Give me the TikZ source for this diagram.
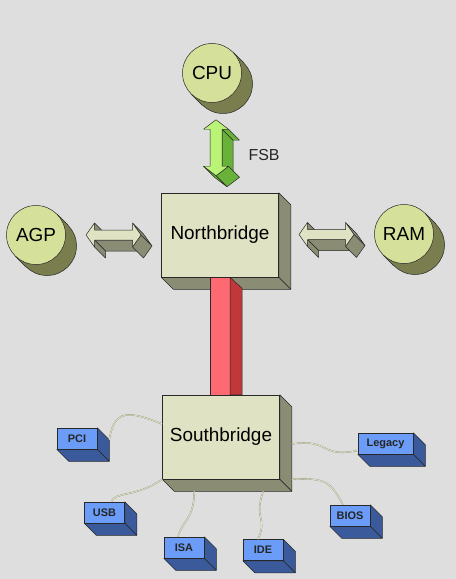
\documentclass[tikz,border=0pt]{standalone}
\usepackage{fontspec}
\setmainfont{Liberation Sans}
\usetikzlibrary{calc}
\definecolor{bgcol}{RGB}{222,222,222}
\definecolor{edgecol}{RGB}{40,40,40}
\definecolor{discface}{RGB}{213,224,154}
\definecolor{discside}{RGB}{122,125,78}
\definecolor{chipface}{RGB}{224,226,196}
\definecolor{chipside}{RGB}{138,140,116}
\definecolor{fsbface}{RGB}{186,244,118}
\definecolor{fsbside}{RGB}{104,178,58}
\definecolor{barface}{RGB}{255,106,114}
\definecolor{barside}{RGB}{192,56,58}
\definecolor{portface}{RGB}{106,156,248}
\definecolor{portside}{RGB}{58,90,155}
\definecolor{wireedge}{RGB}{150,150,130}
\definecolor{wirecore}{RGB}{232,232,204}
\pgfdeclarelayer{back}
\pgfsetlayers{back,main}
\tikzset{
  side/.style={draw=edgecol,line width=0.5pt,line join=round},
  disc/.style={circle,draw=edgecol,line width=0.5pt,fill=discface,minimum size=59bp,inner sep=0pt,font=\fontsize{19}{22}\selectfont},
  chip/.style={rectangle,draw=edgecol,line width=0.5pt,fill=chipface,minimum width=117bp,minimum height=84bp,inner sep=0pt,font=\fontsize{19}{22}\selectfont},
  port/.style={rectangle,draw=edgecol,line width=0.5pt,fill=portface,minimum width=40bp,minimum height=21bp,inner sep=0pt,font=\bfseries\fontsize{11}{13}\selectfont,text=black!85},
  buslab/.style={font=\fontsize{16}{19}\selectfont,text=black!85},
  wire/.style={draw=wireedge,line width=0.35pt,double=wirecore,double distance=0.7pt},
}
\newcommand{\discsides}[1]{%
  \filldraw[side,fill=discside] ([shift={(11,11)}]#1.center) circle (29.5bp);
  \fill[discside] (#1.45) -- ([shift={(11,11)}]#1.45) -- ([shift={(11,11)}]#1.225) -- (#1.225) -- cycle;
  \draw[side] (#1.45) -- ([shift={(11,11)}]#1.45);
  \draw[side] (#1.225) -- ([shift={(11,11)}]#1.225);}
\newcommand{\boxsides}[2]{%
  \filldraw[side,fill=#2] (#1.north east) -- ([shift={(12,12)}]#1.north east) -- ([shift={(12,12)}]#1.south east) -- (#1.south east) -- cycle;
  \filldraw[side,fill=#2] (#1.south west) -- (#1.south east) -- ([shift={(12,12)}]#1.south east) -- ([shift={(12,12)}]#1.south west) -- cycle;}
\newcommand{\hbus}[2]{%
  \filldraw[side,fill=#2] (-19,-12) -- (-19,-5) -- (-8,6) -- (-8,-1) -- cycle;
  \filldraw[side,fill=#2] (19,5) -- (-19,5) -- (-8,16) -- (30,16) -- cycle;
  \filldraw[side,fill=#2] (-19,5) -- (-19,12) -- (-8,23) -- (-8,16) -- cycle;
  \filldraw[side,fill=#2] (19,-12) -- (27.5,0) -- (38.5,11) -- (30,-1) -- cycle;
  \filldraw[side,fill=#2] (27.5,0) -- (19,12) -- (30,23) -- (38.5,11) -- cycle;
  \filldraw[side,fill=#1] (-27.5,0) -- (-19,-12) -- (-19,-5) -- (19,-5) -- (19,-12) -- (27.5,0) -- (19,12) -- (19,5) -- (-19,5) -- (-19,12) -- cycle;}
\newcommand{\vbus}[2]{%
  \filldraw[side,fill=#2] (12.5,-18.5) -- (6,-18.5) -- (17,-7.5) -- (23.5,-7.5) -- cycle;
  \filldraw[side,fill=#2] (6,-18.5) -- (6,18.5) -- (17,29.5) -- (17,-7.5) -- cycle;
  \filldraw[side,fill=#2] (12.5,18.5) -- (0,28) -- (11,39) -- (23.5,29.5) -- cycle;
  \filldraw[side,fill=#2] (0,28) -- (-12.5,18.5) -- (-1.5,29.5) -- (11,39) -- cycle;
  \filldraw[side,fill=#1] (0,-28) -- (12.5,-18.5) -- (6,-18.5) -- (6,18.5) -- (12.5,18.5) -- (0,28) -- (-12.5,18.5) -- (-6,18.5) -- (-6,-18.5) -- (-12.5,-18.5) -- cycle;}

\begin{document}
\begin{tikzpicture}[x=1bp,y=-1bp]
  \useasboundingbox (0,0) rectangle (456,579);
  \begin{pgfonlayer}{back}
    \fill[bgcol] (0,0) rectangle (456,579);
  \end{pgfonlayer}
  \node[disc] (cpu) at (212,73) {CPU};
  \node[disc] (agp) at (36,235) {AGP};
  \node[disc] (ram) at (404,234) {RAM};
  \node[chip] (nb) at (220,235) {Northbridge};
  \node[chip] (sb) at (221,437) {Southbridge};
  \node[port] (pci) at (77,438.5) {PCI};
  \node[port,minimum width=55bp] (legacy) at (385.5,443.5) {Legacy};
  \node[port] (usb) at (104.5,512.5) {USB};
  \node[port] (isa) at (184,547.5) {ISA};
  \node[port] (ide) at (263,550) {IDE};
  \node[port] (bios) at (350,515.5) {BIOS};
  \begin{pgfonlayer}{back}
    \discsides{cpu}
    \discsides{agp}
    \discsides{ram}
    \boxsides{nb}{chipside}
    \boxsides{sb}{chipside}
    \boxsides{pci}{portside}
    \boxsides{legacy}{portside}
    \boxsides{usb}{portside}
    \boxsides{isa}{portside}
    \boxsides{ide}{portside}
    \boxsides{bios}{portside}
  \end{pgfonlayer}
  \coordinate (bartop) at (nb.south);
  \coordinate (barbot) at (nb.south |- sb.north);
  \filldraw[side,fill=barface] ([shift={(-10,0)}]bartop) rectangle ([shift={(10,0)}]barbot);
  \filldraw[side,fill=barside] ([shift={(10,0)}]bartop) -- ([shift={(22,11)}]bartop) -- ([shift={(22,0)}]barbot) -- ([shift={(10,0)}]barbot) -- cycle;
  \draw[wire] ([shift={(0,-13)}]sb.west) .. controls +(-35,-14) and +(5,-30) .. ([shift={(12,12)}]pci.north east);
  \draw[wire] (sb.south west) .. controls +(-25,18) and +(2,-10) .. ([shift={(7,0)}]usb.north);
  \draw[wire] ([shift={(32,12)}]sb.south west) .. controls +(0,28) and +(4,-16) .. ([shift={(-6,0)}]isa.north);
  \draw[wire] ([shift={(101,12)}]sb.south west) .. controls +(-10,28) and +(10,-22) .. ([shift={(-5,0)}]ide.north);
  \draw[wire] ([shift={(12,7)}]sb.east) .. controls +(38,-6) and +(-38,8) .. ([shift={(0,7)}]legacy.west);
  \draw[wire] ([shift={(12,0)}]sb.south east) .. controls +(35,-2) and +(-12,-22) .. ([shift={(-7,0)}]bios.north);
  \coordinate (fsbc) at ($(cpu.south)!.5!(nb.north)$);
  \coordinate (agpc) at ($(agp.east)!.5!(nb.west)$);
  \coordinate (ramc) at ($(nb.east)!.5!(ram.west)$);
  \begin{scope}[shift={(fsbc)}]
    \vbus{fsbface}{fsbside}
  \end{scope}
  \begin{scope}[shift={(agpc)}]
    \hbus{chipface}{chipside}
  \end{scope}
  \begin{scope}[shift={(ramc)}]
    \hbus{chipface}{chipside}
  \end{scope}
  \node[buslab,anchor=west] (fsb) at ([shift={(29,7)}]fsbc) {FSB};
\end{tikzpicture}
\end{document}
